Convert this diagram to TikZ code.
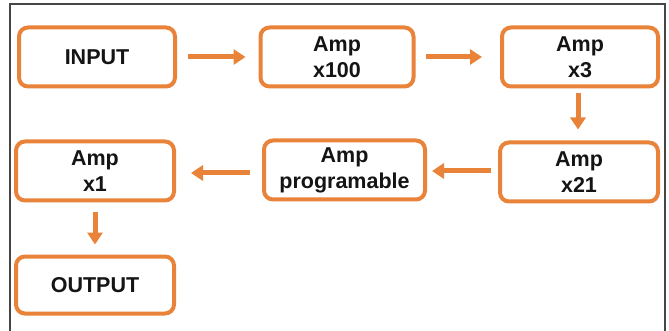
\documentclass[tikz,border=0pt]{standalone}
\usepackage{fontspec}
\setmainfont{Liberation Sans}
\usetikzlibrary{arrows.meta}
\definecolor{boxorange}{RGB}{233,131,58}
\definecolor{framegray}{RGB}{70,70,70}
\definecolor{txt}{RGB}{20,20,20}
\tikzset{
  blk/.style={draw=boxorange, line width=4pt, rounded corners=9pt, fill=white,
    minimum height=59pt, align=center, text=txt, inner sep=0pt,
    font=\fontsize{21.5}{26}\selectfont\bfseries},
  flow/.style={draw=boxorange, line width=5pt,
    -{Triangle[length=12pt,width=15pt]}}
}
\begin{document}
\begin{tikzpicture}[x=1pt,y=-1pt]
\useasboundingbox (0,0) rectangle (669,331);
\fill[white] (0,0) rectangle (669,331);
\draw[framegray, line width=1.3pt] (10,331) -- (10,4) -- (665,4) -- (665,331);
\node[blk, minimum width=156pt] (in) at (97,57) {INPUT};
\node[blk, minimum width=153pt] (a100) at (337,57) {Amp\\x100};
\node[blk, minimum width=156pt] (a3) at (580,57) {Amp\\x3};
\node[blk, minimum width=158pt] (a1) at (95,171) {Amp\\x1};
\node[blk, minimum width=161pt] (prog) at (344.5,170) {Amp\\programable};
\node[blk, minimum width=158pt] (a21) at (579,172) {Amp\\x21};
\node[blk, minimum width=158pt, minimum height=57pt] (out) at (95,285) {OUTPUT};
\draw[flow, shorten <=11pt, shorten >=13pt] (in.east) -- (a100.west);
\draw[flow, shorten <=10pt, shorten >=18pt] (a100.east) -- (a3.west);
\draw[flow, shorten <=5pt, shorten >=11pt] (a3.south -| 578,0) -- (a21.north -| 578,0);
\draw[flow, shorten <=7pt, shorten >=5pt] (a21.west |- 0,171) -- (prog.east |- 0,171);
\draw[flow, shorten <=12pt, shorten >=15pt] (prog.west |- 0,173) -- (a1.east |- 0,173);
\draw[flow, shorten <=10pt, shorten >=10pt] (a1.south) -- (out.north);
\end{tikzpicture}
\end{document}
